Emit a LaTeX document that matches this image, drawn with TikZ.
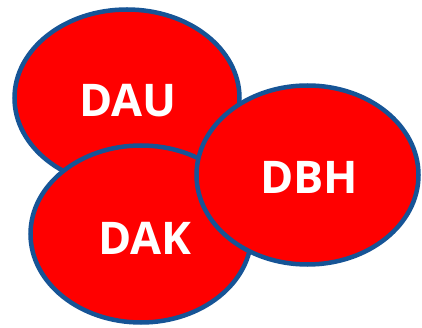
\documentclass[tikz,border=0pt]{standalone}
\usepackage{fontspec}
\setmainfont{Open Sans}
\usetikzlibrary{shapes.geometric}
\definecolor{rimblue}{RGB}{22,84,150}
\begin{document}
\begin{tikzpicture}[x=1pt,y=-1pt]
	% styles
	\tikzset{blob/.style={ellipse,draw=rimblue,fill=red,line width=4.5pt,inner sep=0pt}}
	\tikzset{tag/.style={text=white,font=\fontsize{45}{45}\selectfont\bfseries,inner sep=0pt}}
	
	% bounding box
	\useasboundingbox[fill=white] (0,0) rectangle (422,328);
	
	% ellipses (back to front)
	\node[blob,minimum width=225pt,minimum height=177pt] (dau) at (127,98) {};
	\node[blob,minimum width=221pt,minimum height=177pt] (dak) at (141,234) {};
	\node[blob,minimum width=222pt,minimum height=179pt] (dbh) at (307.5,175) {};
	
	% labels
	\node[tag] (tdau) at (128,101) {DAU};
	\node[tag] (tdak) at (145,238.5) {DAK};
	\node[tag] (tdbh) at (309,177) {DBH};
\end{tikzpicture}
\end{document}
